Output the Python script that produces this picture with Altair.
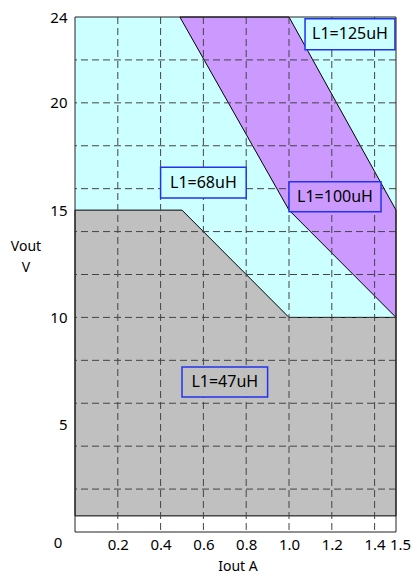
import altair as alt
import pandas as pd

# ---- data ----
x_ticks = [0.2, 0.4, 0.6, 0.8, 1.0, 1.2, 1.4, 1.5]
y_ticks = [5, 10, 15, 20, 24]
x_grid = [0.2, 0.4, 0.6, 0.8, 1.0, 1.2, 1.4]
y_grid = [2, 4, 6, 8, 10, 12, 14, 16, 18, 20, 22]

floor_v = 0.75          # bottom of the coloured regions
x_max = 1.5
y_max = 24

gray_x = [0.0, 0.5, 1.0, 1.5]
gray_top = [15, 15, 10, 10]

purple_x = [0.49, 1.0, 1.5]
purple_low = [24, 15, 10]
purple_high = [24, 24, 15]

labels = ["L1=47uH", "L1=68uH", "L1=100uH", "L1=125uH"]
box_x1 = [0.50, 0.40, 1.00, 1.075]
box_x2 = [0.90, 0.80, 1.43, 1.495]
box_y1 = [6.29, 15.57, 14.92, 22.47]
box_y2 = [7.69, 17.00, 16.32, 23.92]
box_fill = ["#c0c0c0", "#ccffff", "#cc99ff", "#ccffff"]

FONT = "Noto Sans"

xs = alt.Scale(domain=[0, x_max], nice=False, zero=False)
ys = alt.Scale(domain=[0, y_max], nice=False, zero=False)

x_axis = alt.Axis(values=x_ticks, title=None, grid=False, ticks=False, domain=False,
                  labelFont=FONT, labelFontSize=15, labelColor="black", labelPadding=5,
                  labelFlush=False, labelOverlap=False, format=".1f",
                  labelOffset={"condition": {"test": "datum.value == 1.5", "value": 4}, "value": 0})
y_axis = alt.Axis(values=y_ticks, title=None, grid=False, ticks=False, domain=False,
                  labelFont=FONT, labelFontSize=15, labelColor="black", labelPadding=8,
                  labelFlush=False, labelOverlap=False)

def X(f="x"):
    return alt.X(f"{f}:Q", scale=xs, axis=x_axis)

def Y(f="y"):
    return alt.Y(f"{f}:Q", scale=ys, axis=y_axis)

bg_df = pd.DataFrame({"x": [0.0], "x2": [x_max], "y": [floor_v], "y2": [y_max]})
background = alt.Chart(bg_df).mark_rect(fill="#ccffff").encode(
    x=X(), x2="x2:Q", y=Y(), y2="y2:Q")

gray_df = pd.DataFrame({"x": gray_x, "y": gray_top, "y2": [floor_v] * len(gray_x)})
gray = alt.Chart(gray_df).mark_area(fill="#c0c0c0", stroke="black", strokeWidth=1,
                                    opacity=1, orient="vertical").encode(
    x=X(), y=Y(), y2="y2:Q")

purple_df = pd.DataFrame({"x": purple_x, "y": purple_low, "y2": purple_high})
purple = alt.Chart(purple_df).mark_area(fill="#cc99ff", stroke="black", strokeWidth=1,
                                        opacity=1, orient="vertical").encode(
    x=X(), y=Y(), y2="y2:Q")

vgrid = alt.Chart(pd.DataFrame({"x": x_grid})).mark_rule(
    color="#444444", strokeWidth=1, strokeDash=[7, 4]).encode(x=X())
hgrid = alt.Chart(pd.DataFrame({"y": y_grid})).mark_rule(
    color="#444444", strokeWidth=1, strokeDash=[7, 4]).encode(y=Y())

box_df = pd.DataFrame({"label": labels, "x": box_x1, "x2": box_x2, "y": box_y1,
                       "y2": box_y2, "fill": box_fill})
box_df["xc"] = (box_df["x"] + box_df["x2"]) / 2
box_df["yc"] = (box_df["y"] + box_df["y2"]) / 2
boxes = alt.Chart(box_df).mark_rect(stroke="#2233ee", strokeWidth=1.5).encode(
    x=X(), x2="x2:Q", y=Y(), y2="y2:Q",
    fill=alt.Fill("fill:N", scale=None))
box_text = alt.Chart(box_df).mark_text(font=FONT, fontSize=16, color="black",
                                       baseline="middle", align="center").encode(
    x=X("xc"), y=Y("yc"), text="label:N")

border_df = pd.DataFrame({"x": [0.0], "x2": [x_max], "y": [0.0], "y2": [y_max]})
border = alt.Chart(border_df).mark_rect(fill=None, stroke="#222222", strokeWidth=1).encode(
    x=X(), x2="x2:Q", y=Y(), y2="y2:Q")

origin_df = pd.DataFrame({"x": [0.0], "y": [0.0], "t": ["0"]})
origin = alt.Chart(origin_df).mark_text(font=FONT, fontSize=15, color="black",
                                        dx=-17, dy=11, baseline="middle").encode(
    x=X(), y=Y(), text="t:N")

title_df = pd.DataFrame({"t": ["Vout", "V", "Iout A"],
                         "px": [-49, -49, 163], "py": [230, 251, 550]})
titles = alt.Chart(title_df).mark_text(font=FONT, fontSize=14, color="black",
                                       baseline="middle", align="center").encode(
    x=alt.X("px:Q", scale=None, axis=None), y=alt.Y("py:Q", scale=None, axis=None),
    text="t:N")

chart = alt.layer(background, gray, purple, vgrid, hgrid, boxes, box_text, border,
                  origin, titles).properties(
    width=321, height=515,
    autosize=alt.AutoSizeParams(type="none"),
    padding={"left": 67, "top": 9, "right": 16, "bottom": 44},
).configure_view(stroke=None)

chart.save("out.html", embed_options={"renderer": "svg", "actions": False})
